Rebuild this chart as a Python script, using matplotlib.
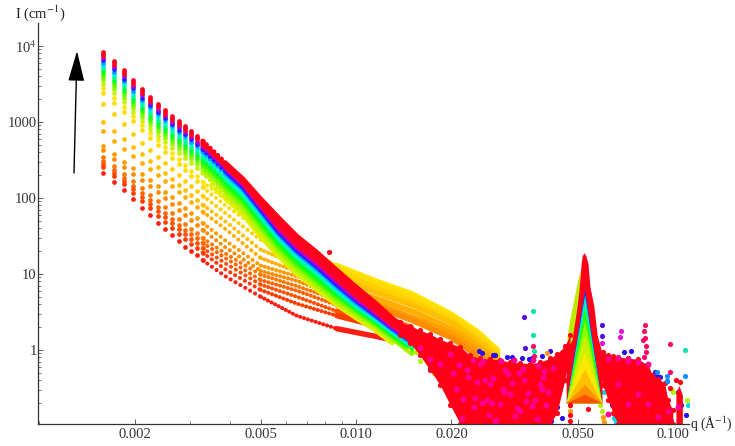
import numpy as np
import matplotlib
matplotlib.use("Agg")
import matplotlib.pyplot as plt
from matplotlib.ticker import FixedLocator, FixedFormatter, NullFormatter

plt.rcParams['font.family'] = ['Liberation Serif', 'DejaVu Serif']
plt.rcParams['mathtext.fontset'] = 'stix'

# q values of the separated low-q columns, then the further readings
q_cols = [0.00159, 0.00172, 0.00185, 0.00198, 0.00211, 0.00224, 0.00237, 0.0025, 0.00263, 0.00276, 0.00289, 0.00302, 0.00315, 0.00328]
q_late_far = [0.0035, 0.0039, 0.0044, 0.005, 0.0057, 0.0065, 0.0075, 0.0087, 0.01, 0.0115, 0.013, 0.015]
q_early_far = [0.0039, 0.005, 0.0065, 0.0087, 0.0115, 0.015, 0.02, 0.024, 0.028]

# log10(I) of the early curves (red, orange, yellow; first recorded)
early_0 = [2.33,2.21,2.11,1.99,1.87,1.78,1.67,1.59,1.51,1.43,1.36,1.30,1.25,1.18,.96,.70,.45,.28,.18,.08,np.nan,np.nan,np.nan]
early_1 = [2.41,2.29,2.18,2.07,1.96,1.87,1.76,1.68,1.61,1.53,1.46,1.39,1.34,1.28,1.05,.79,.61,.45,.32,.13,np.nan,np.nan,np.nan]
early_2 = [2.45,2.33,2.22,2.12,2.01,1.92,1.83,1.75,1.67,1.59,1.53,1.46,1.41,1.34,1.13,.86,.70,.51,.37,.16,np.nan,np.nan,np.nan]
early_3 = [2.49,2.37,2.26,2.16,2.07,1.97,1.88,1.80,1.72,1.64,1.58,1.53,1.47,1.41,1.20,.92,.78,.59,.42,.21,np.nan,np.nan,np.nan]
early_4 = [2.54,2.42,2.32,2.22,2.13,2.04,1.96,1.88,1.80,1.72,1.66,1.59,1.54,1.47,1.26,.99,.84,.66,.49,.29,np.nan,np.nan,np.nan]
early_5 = [2.63,2.51,2.41,2.32,2.24,2.16,2.08,2.00,1.92,1.84,1.78,1.71,1.64,1.58,1.34,1.04,.91,.71,.57,.39,.16,-.07,np.nan]
early_6 = [2.68,2.58,2.47,2.39,2.32,2.24,2.16,2.08,2.01,1.93,1.87,1.80,1.74,1.67,1.43,1.11,.97,.78,.61,.43,.22,0,-.2]
early_7 = [2.88,2.75,2.64,2.55,2.46,2.38,2.30,2.22,2.16,2.08,2.01,1.95,1.88,1.82,1.58,1.21,1.03,.86,.68,.51,.28,.07,-.16]
early_8 = [3.0,2.88,2.78,2.67,2.58,2.49,2.41,2.33,2.25,2.17,2.11,2.04,1.97,1.91,1.68,1.32,1.12,.95,.76,.59,.36,.13,-.11]
early_9 = [3.24,3.11,2.97,2.84,2.72,2.63,2.54,2.46,2.38,2.30,2.22,2.16,2.09,2.03,1.79,1.45,1.22,1.03,.82,.64,.39,.17,-.07]
early_10 = [3.38,3.25,3.13,3.01,2.89,2.79,2.70,2.61,2.53,2.45,2.37,2.29,2.22,2.14,1.89,1.58,1.32,1.08,.88,.71,.45,.22,-.03]
early_11 = [3.45,3.32,3.20,3.08,2.96,2.86,2.76,2.67,2.59,2.51,2.43,2.36,2.29,2.21,1.97,1.68,1.38,1.11,.91,.74,.47,.25,0]
early_curves = [early_11, early_10, early_9, early_8, early_7, early_6, early_5, early_4, early_3, early_2, early_1, early_0]
early_colors = ['#ffe600','#ffdc00','#ffcf00','#ffbf00','#ffae00','#ff9c00','#ff8c00','#ff7a00','#ff6400','#ff5000','#ff3c00','#ff1c10']

# log10(I) of the late curves (rainbow band)
late_13 = [np.nan]*14 + [2.17,1.98,1.78,1.49,1.23,1.00,.80,.59,.42,.26,.09,np.nan]
late_12 = [3.50,3.38,3.26,3.13,3.01,2.91,2.82,2.74,2.66,2.59,2.53,2.46,2.40,2.33,2.22,2.03,1.83,1.54,1.27,1.03,.83,.62,.45,.29,.12,np.nan]
late_11 = [3.55,3.43,3.31,3.18,3.06,2.96,2.87,2.79,2.71,2.64,2.58,2.51,2.45,2.38,2.27,2.08,1.88,1.59,1.31,1.07,.86,.65,.48,.32,.15,-.05]
late_10 = [3.59,3.47,3.35,3.22,3.10,3.00,2.91,2.83,2.75,2.68,2.62,2.55,2.49,2.42,2.31,2.12,1.92,1.63,1.35,1.11,.90,.68,.50,.34,.17,-.02]
late_9 = [3.63,3.51,3.39,3.26,3.14,3.04,2.95,2.87,2.79,2.72,2.66,2.59,2.53,2.46,2.35,2.16,1.96,1.67,1.38,1.14,.93,.71,.53,.36,.19,.01]
late_8 = [3.67,3.55,3.43,3.30,3.18,3.08,2.99,2.91,2.83,2.76,2.70,2.63,2.57,2.50,2.39,2.20,2.00,1.71,1.42,1.18,.97,.74,.55,.38,.21,.03]
late_7 = [3.71,3.59,3.47,3.34,3.22,3.12,3.03,2.95,2.87,2.80,2.74,2.67,2.61,2.54,2.43,2.24,2.04,1.75,1.46,1.22,1.01,.77,.57,.40,.23,.05]
late_6 = [3.75,3.63,3.51,3.38,3.26,3.16,3.07,2.99,2.91,2.84,2.78,2.71,2.65,2.58,2.47,2.28,2.08,1.79,1.49,1.25,1.04,.80,.60,.42,.25,.07]
late_5 = [3.78,3.66,3.54,3.41,3.29,3.19,3.10,3.02,2.94,2.87,2.81,2.74,2.68,2.61,2.50,2.31,2.11,1.82,1.52,1.28,1.07,.83,.62,.44,.27,.09]
late_4 = [3.81,3.69,3.57,3.44,3.32,3.22,3.13,3.05,2.97,2.90,2.84,2.77,2.71,2.64,2.53,2.34,2.14,1.85,1.55,1.31,1.10,.86,.65,.46,.29,.11]
late_3 = [3.84,3.72,3.60,3.47,3.35,3.25,3.16,3.08,3.00,2.93,2.87,2.80,2.74,2.67,2.56,2.37,2.17,1.88,1.58,1.34,1.13,.89,.67,.48,.30,.13]
late_2 = [3.87,3.75,3.63,3.50,3.38,3.28,3.19,3.11,3.03,2.96,2.90,2.83,2.77,2.70,2.59,2.40,2.20,1.91,1.62,1.38,1.17,.93,.71,.51,.33,.15]
late_1 = [3.89,3.77,3.65,3.52,3.40,3.30,3.21,3.13,3.05,2.98,2.92,2.85,2.79,2.72,2.61,2.42,2.22,1.95,1.68,1.44,1.23,.99,.77,.56,.37,.18]
late_0 = [3.92,3.80,3.68,3.55,3.43,3.33,3.24,3.16,3.08,3.01,2.95,2.88,2.82,2.75,2.64,2.45,2.25,1.99,1.74,1.50,1.29,1.05,.83,.62,.42,.22]
late_curves = [late_13, late_12, late_11, late_10, late_9, late_8, late_7, late_6, late_5, late_4, late_3, late_2, late_1, late_0]
late_colors = ['#e0f000','#c8f200','#a0f500','#70fa00','#30ff00','#00ff30','#00ff90','#00f0e0','#00a0ff','#2020ff','#a000f0','#ff0030','#ff0020','#ff0018']

# noisy plateau below the shoulder: envelope
left_q = [.01377,.0148,.0159,.0171,.0184,.0198,.0213,.0229,.0246,.0265,.0284,.0306,.0329,.0354,.038,.0409,.043,.0456,.0473]
left_hi = [.37,.32,.26,.21,.14,.09,.04,-.07,-.11,-.12,-.13,-.16,-.17,-.18,-.16,-.11,-.05,.05,.20]
left_lo = [.20,.09,-.07,-.26,-.46,-.72,-.97,-.97,-.97,-.97,-.97,-.97,-.97,-.97,-.97,-.97,-.83,-.39,0]
right_q = [.058,.0601,.0624,.0647,.067,.0721,.0776,.0834,.0861,.0897,.094,.0964,.0998]
right_hi = [0,-.03,-.07,-.08,-.09,-.11,-.12,-.20,-.33,-.38,-.43,-.66,-.79]
right_lo = [-.20,-.46,-.66,-.83,-.97,-.97,-.97,-.97,-.97,-.97,-.97,-.97,-.97]
tail_q = [.1021,.1045,.1070]
tail_hi = [-.55,-.47,-.59]

# Bragg peak
strand_q = [.0460,.0480,.0498,.0505,.0513,.0517,.0524,.0531,.0539,.0547,.0563,.0576,.0597]
strand_hi = [0,.13,.57,.79,1.14,1.24,1.28,1.24,1.14,.83,.57,.20,-.04]
strand_lo = [-.70,-.70,-.70,-.70,-.70,-.70,-.70,-.70,-.70,-.70,-.70,-.70,-.70]
wing_q = [.0463,.0473,.0487,.0498,.0509]
wing_hi = [.17,.42,.68,.88,1.05]
wing_lo = [0,0,.1,.3,.6]
peak_base_q = [.0462, .0597]
peak_apex_q = .0528
peak_base = -.70
peak_apex = [.79,.72,.63,.53,.37,.20,-.03,-.26,-.46,-.59]
peak_colors = ['#0040ff','#00e0e0','#00ff80','#30ff00','#90ff00','#d0f000','#ffe800','#ffc000','#ff9000','#ff5000']

# single noisy points
pink_q = [.0207,.0218,.0224,.0236,.0241,.0252,.0259,.0271,.0277,.0290,.0296,.0311,.0318,.0336,.0343,.0362,.0371,.0389,.0398,.0418,
          .0216,.0233,.0255,.0268,.0293,.0314,.0339,.0367,.0393,.0226,.0249,.0274,.0301,.0327,.0358,.0385,.0202,.0211,
          .0238,.0262,.0287,.0322,.0348,.0376,.0403,
          .0184,.0171,.0198,.0159,.0624,.067,.0721,.0776,.0834,.067,.0721,.0776,.0624,.0721,.0834,.0897,.0964,.1037,.0246,.0306,.038,.0284,.0329,.0265]
pink_l = [-.52,-.64,-.27,-.75,-.42,-.14,-.66,-.37,-.92,-.52,-.26,-.44,-.87,-.25,-.67,-.13,-.91,-.36,-.72,-.24,
          -.90,-.13,-.40,-.70,-.55,-.13,-.40,-.66,-.28,-.35,-.70,-.93,-.32,-.30,-.74,-.52,-.30,-.20,
          -.63,-.85,-.15,-.76,-.56,-.21,-.55,
          -.18,-.12,-.05,.02,-.12,-.11,-.15,-.16,-.18,-.45,-.71,-.58,-.84,-.12,-.71,-.88,-.80,-.75,-.18,-.58,-.45,-.71,-.80,-.45]
blue_q = [.0184,.0171,.0198,.0205,.0192,.0213,.0221,.0205,.0221,.0229,.0350,.0300,.0270,.0245,.0432,.0445,.0413,.0425,.0632,.0655,.0610,.0640,.0880,.0890,.0912,.0957,.1037,.1060,.1100,.0700,.0735,
          .0250,.0275,.0310,.0335,.0360,.0385,.0410]
blue_l = [-.33,-.24,-.55,-.68,-.48,-.85,-.93,-.76,-.70,-.90,-.12,-.09,-.06,-.02,-.75,-.90,-.93,-.82,-.62,-.85,-.48,-.73,-.29,-.34,-.36,-.41,-.55,-.72,-.85,-.03,-.02,
          -.04,-.06,-.09,-.10,-.10,-.08,-.02]
cyan_q = [.0167,.0178,.0195,.0210,.0205,.0228,.0428,.0463,.0605,.0650,.0660,.1115]
cyan_l = [-.13,-.22,-.38,-.68,-.60,-.92,-.62,-.28,-.55,-.90,-.95,-.72]
lime_q = [.0146,.0155,.0159,.0172,.0176,.0590,.0596,.0600,.0985,.1003,.1110]
lime_l = [.00,-.03,-.14,-.22,-.30,-.72,-.80,-.90,-.52,-.55,-.66]
orange_q = [.0400,.0473,.0473,.0600,.0605]
orange_l = [-.04,-.72,-.80,-.88,-.95]
red_q = [.00822,.0473,.0473,.0473,.0539,.0640,.0660,.0978,.1021,.1050]
red_l = [1.29,-.72,-.85,-.93,-.78,-.70,-.85,-.50,-.40,-.42]
teal_out_q = [.0362,.0362,.0364,.1091]
teal_out_l = [.51,.20,-.01,.0]
azure_out_q = [.1091,.0890,.0957,.0957]
azure_out_l = [-.34,-.29,-.41,-.34]
violet_out_q = [.0339,.0341,.0597,.0597]
violet_out_l = [.43,.03,.33,.18]
magenta_out_q = [.0597,.0685,.0680]
magenta_out_l = [.09,.25,.17]
rose_out_q = [.0362,.0364,.0816,.0810,.0816,.0804,.0822,.0822,.0810,.0978,.0978]
rose_out_l = [.05,-.08,.33,.25,.16,.13,.05,-.03,-.09,.08,-.29]

# axis ticks and labels
x_major = [0.002, 0.005, 0.01, 0.02, 0.05, 0.1]
x_labels = ['0.002', '0.005', '0.010', '0.020', '0.050', '0.100']
x_minor = [0.001, 0.003, 0.004, 0.006, 0.007, 0.008, 0.009, 0.03, 0.04, 0.06, 0.07, 0.08, 0.09]
y_major = [1, 10, 100, 1000, 10000]
y_labels = ['1', '10', '100', '1000', r'10$^{4}$']
y_minor = [v * d for d in (0.1, 1, 10, 100, 1000) for v in (2, 3, 4, 5, 6, 7, 8, 9)]

W, H = 735, 446
fig = plt.figure(figsize=(W / 100, H / 100), dpi=100)
ax = fig.add_axes([38 / W, (H - 424) / H, (689 - 38) / W, (424 - 23) / H])
ax.set_xscale('log')
ax.set_yscale('log')
ax.set_xlim(0.000992, 0.1123)
ax.set_ylim(0.1062, 20000)

DOT = 2.9
MS = 3.4
def I(values):
    return 10.0 ** np.asarray(values, dtype=float)

for curve, color in zip(early_curves, early_colors):
    q = np.array(q_cols + q_early_far)
    v = I(curve)
    ax.plot(q[:14], v[:14], ls='none', marker='o', ms=MS, mew=0, color=color, zorder=2)
    ax.plot(q[13:16], v[13:16], ls=(0, (0.05, 1.35)), lw=DOT, color=color, dash_capstyle='round', zorder=2)
    ax.plot(q[15:18], v[15:18], ls=(0, (0.05, 0.95)), lw=DOT, color=color, dash_capstyle='round', zorder=2)
    ax.plot(q[17:], v[17:], lw=DOT + 1.0, color=color, solid_capstyle='round', zorder=2)

for curve, color in zip(late_curves, late_colors):
    q = np.array(q_cols + q_late_far)
    v = I(curve)
    ax.plot(q[:14], v[:14], ls='none', marker='o', ms=MS, mew=0, color=color, zorder=3)
    ax.plot(q[13:16], v[13:16], ls=(0, (0.05, 1.05)), lw=MS, color=color, dash_capstyle='round', zorder=3)
    ax.plot(q[15:], v[15:], lw=DOT + .4, color=color, solid_capstyle='round', zorder=3)

RED = '#ff0018'
NOISE_S = 14
for xs, ys, c in [(blue_q, blue_l, '#2a10f0'), (cyan_q, cyan_l, '#00d8e8'), (lime_q, lime_l, '#b8f000'),
                  (orange_q, orange_l, '#ff9a10')]:
    ax.scatter(xs, I(ys), s=NOISE_S, color=c, lw=0, zorder=3.5)

ax.fill_between(wing_q, I(wing_lo), I(wing_hi), color='#bcec00', lw=0, zorder=4)
ax.fill_between(left_q, I(left_lo), I(left_hi), color=RED, lw=0, zorder=4)
ax.fill_between(right_q, I(right_lo), I(right_hi), color=RED, lw=0, zorder=4)
ax.fill_between(tail_q, 0.1, I(tail_hi), color=RED, lw=0, zorder=4)
ax.scatter(left_q, I(left_hi), s=NOISE_S, color=RED, lw=0, zorder=4)
ax.scatter(left_q, I(left_lo), s=NOISE_S, color=RED, lw=0, zorder=4)
ax.scatter(right_q, I(right_hi), s=NOISE_S, color=RED, lw=0, zorder=4)
ax.scatter(right_q, I(right_lo), s=NOISE_S, color=RED, lw=0, zorder=4)
ax.scatter(pink_q, I(pink_l), s=NOISE_S + 4, color='#ff0090', lw=0, zorder=4.2)
ax.fill_between(strand_q, I(strand_lo), I(strand_hi), color=RED, lw=0, zorder=4.3)
for apex, color in zip(peak_apex, peak_colors):
    ax.fill([peak_base_q[0], peak_apex_q, peak_base_q[1]], I([peak_base, apex, peak_base]), color=color, lw=0, zorder=4.4)
ax.scatter(red_q, I(red_l), s=NOISE_S, color=RED, lw=0, zorder=4.6)
for xs, ys, c in [(teal_out_q, teal_out_l, '#10e0b0'), (azure_out_q, azure_out_l, '#1090f0'),
                  (violet_out_q, violet_out_l, '#5010e0'), (magenta_out_q, magenta_out_l, '#e010e0'),
                  (rose_out_q, rose_out_l, '#ff0868')]:
    ax.scatter(xs, I(ys), s=NOISE_S, color=c, lw=0, zorder=5)

for side in ('top', 'right'):
    ax.spines[side].set_visible(False)
for side in ('left', 'bottom'):
    ax.spines[side].set_color('#333333')
    ax.spines[side].set_linewidth(0.9)
    ax.spines[side].set_zorder(6)

ax.xaxis.set_major_locator(FixedLocator(x_major))
ax.xaxis.set_major_formatter(FixedFormatter(x_labels))
ax.xaxis.set_minor_locator(FixedLocator(x_minor))
ax.xaxis.set_minor_formatter(NullFormatter())
ax.yaxis.set_major_locator(FixedLocator(y_major))
ax.yaxis.set_major_formatter(FixedFormatter(y_labels))
ax.yaxis.set_minor_locator(FixedLocator(y_minor))
ax.yaxis.set_minor_formatter(NullFormatter())
ax.tick_params(axis='both', which='major', direction='in', length=3.5, width=.6, color='#444444',
               labelsize=10.5, labelcolor='#333333')
ax.tick_params(axis='both', which='minor', direction='in', length=2, width=.5, color='#444444')
ax.tick_params(axis='x', which='major', pad=3)
ax.tick_params(axis='y', which='major', pad=1)

fig.text(15 / W, 1 - 13 / H, r'I (cm$^{-1}$)', fontsize=10.5, color='#222222', va='center', ha='left')
fig.text(690 / W, 1 - 424 / H, 'q (Å$^{-1}$)', fontsize=9.8, color='#222222', va='center', ha='left')

ax.annotate('', xy=(77 / W, 1 - 51 / H), xytext=(74 / W, 1 - 173 / H),
            xycoords='figure fraction', textcoords='figure fraction',
            arrowprops=dict(arrowstyle='-|>,head_length=1.35,head_width=0.36', mutation_scale=14, lw=1.0,
                            color='black', shrinkA=0, shrinkB=0))

fig.savefig('out.png', dpi=100)
